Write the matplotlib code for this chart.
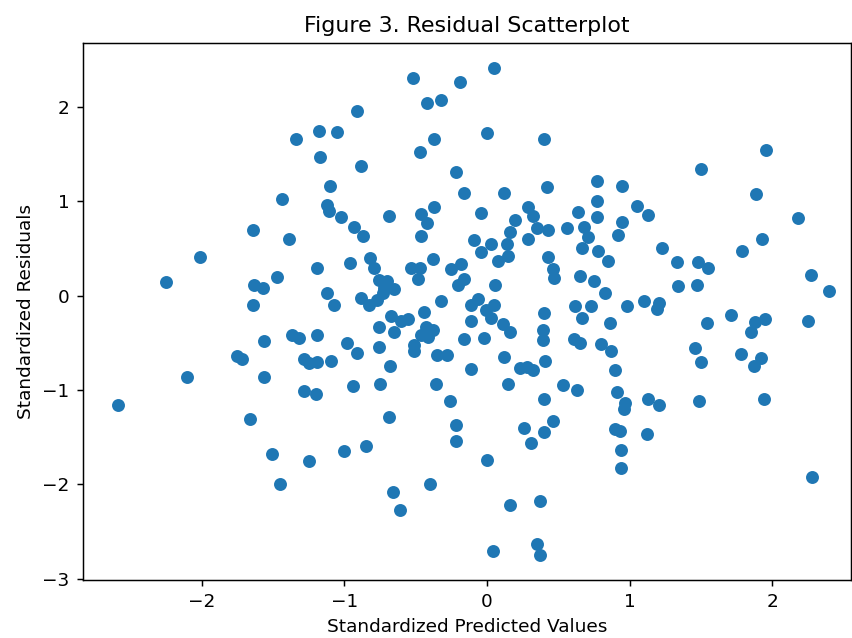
import numpy as np
import matplotlib
matplotlib.use('Agg')
from matplotlib import pyplot as plt

# standardized predicted values (x) and standardized residuals (y)
pred = [0.05, -0.52, -0.19, -0.42, -0.32, -0.91, -1.18, -1.05, -1.34, -0.37,
        -0.47, -1.17, -0.88, -0.22, -0.16, -1.10, -1.44, -1.12, -1.11, -1.02,
        -0.69, -0.46, -0.37, -0.42, -0.93, 0.00, 0.40, 0.77, 0.95, 0.42,
        0.12, 0.77, 1.05, 1.13, -0.04, 0.29, 0.32, 0.20, 0.64, 0.77,
        0.95, 0.68, 0.43, 0.35, 0.56, 1.96, 1.50, 1.89, 2.18,
        -1.64, -1.39, -2.01, -2.25, -1.47, -1.63, -1.57, -1.64, -1.56, -1.75,
        -1.72, -2.10, -1.56, -2.59,
        -0.87, -0.46, -0.09, -1.19, -0.96, -0.82, -0.79, -0.53, -0.47, -0.38,
        -0.48, -0.25, -0.18, -0.16, -0.20, -0.76, -0.70, -0.65, -0.72, -0.73,
        -1.12, -1.07, -0.88, -0.83, -0.77, -0.32, -0.11, -0.44, -0.67, -0.60,
        -0.55, -0.76, -0.65, -0.43, -0.38, -0.46, -0.41, -0.51, -0.51, -0.11,
        -0.16, -1.37, -1.32, -1.19, -0.98, -0.91, -0.76, -0.35, -0.28, -1.28,
        -1.25, -1.19, -1.09, -0.68, -0.11, -0.94, -0.75, -0.36, -1.28, -1.20,
        -0.26,
        0.16, 0.29, 0.71, 0.92, 0.03, 0.14, -0.04, 0.15, 0.08, 0.67,
        0.78, 0.85, 1.23, 0.43, 0.46, 0.47, 0.65, 0.75, 0.83, 0.06,
        -0.06, 0.05, -0.01, 0.03, 0.11, 0.16, 0.40, 0.39, 0.39, 0.62,
        0.73, 0.67, 0.86, 0.98, 1.10, 1.19, 1.21, -0.02, 0.61, 0.65,
        0.80, 0.87, 0.12, 0.41, 0.23, 0.28, 0.32, 0.90, 0.15, 0.53,
        0.63, 0.91, 0.40, 0.97, 1.13, 1.21,
        1.93, 1.79, 1.33, 1.48, 1.55, 1.34, 1.47, 2.27, 2.40, 1.71,
        1.54, 1.88, 1.95, 1.85, 2.25, 1.46, 1.50, 1.78, 1.92, 1.87,
        1.49, 1.94,
        -1.66, -1.51, -1.45, -1.25, -1.00, -0.85, -0.69, -0.22, -0.22, -0.40,
        -0.66, -0.61, 0.96, 0.46, 0.26, 0.40, 0.31, 0.90, 0.93, 1.12,
        0.94, 0.94, 0.00, 0.16, 0.37, 0.04, 0.35, 0.37, 2.28]

resid = [2.42, 2.31, 2.27, 2.04, 2.08, 1.96, 1.75, 1.74, 1.66, 1.66,
         1.53, 1.47, 1.38, 1.31, 1.09, 1.16, 1.03, 0.96, 0.90, 0.84,
         0.85, 0.87, 0.94, 0.77, 0.73, 1.73, 1.66, 1.22, 1.16, 1.15,
         1.09, 1.01, 0.95, 0.86, 0.88, 0.94, 0.85, 0.80, 0.89, 0.84,
         0.78, 0.73, 0.70, 0.72, 0.72, 1.55, 1.34, 1.08, 0.82,
         0.70, 0.60, 0.41, 0.15, 0.20, 0.11, 0.08, -0.10, -0.48, -0.64,
         -0.67, -0.86, -0.86, -1.16,
         0.63, 0.63, 0.59, 0.29, 0.35, 0.40, 0.30, 0.30, 0.30, 0.39,
         0.18, 0.28, 0.34, 0.18, 0.11, 0.17, 0.16, 0.07, 0.08, 0.03,
         0.03, -0.10, -0.02, -0.10, -0.04, -0.05, -0.10, -0.17, -0.21, -0.27,
         -0.25, -0.33, -0.38, -0.33, -0.36, -0.41, -0.44, -0.52, -0.59, -0.27,
         -0.46, -0.42, -0.45, -0.42, -0.50, -0.61, -0.54, -0.63, -0.63, -0.67,
         -0.71, -0.70, -0.69, -0.74, -0.78, -0.96, -0.93, -0.94, -1.01, -1.04,
         -1.12,
         0.68, 0.60, 0.62, 0.64, 0.55, 0.55, 0.46, 0.42, 0.37, 0.51,
         0.48, 0.37, 0.51, 0.41, 0.28, 0.19, 0.21, 0.16, 0.03, 0.11,
         -0.03, -0.10, -0.15, -0.24, -0.30, -0.38, -0.18, -0.36, -0.47, -0.11,
         -0.11, -0.24, -0.29, -0.11, -0.06, -0.14, -0.08, -0.45, -0.46, -0.50,
         -0.51, -0.59, -0.65, -0.69, -0.77, -0.75, -0.79, -0.79, -0.93, -0.95,
         -1.00, -1.02, -1.09, -1.14, -1.09, -1.16,
         0.60, 0.47, 0.36, 0.36, 0.29, 0.10, 0.11, 0.22, 0.05, -0.20,
         -0.29, -0.28, -0.25, -0.38, -0.27, -0.55, -0.70, -0.62, -0.66, -0.74,
         -1.12, -1.09,
         -1.31, -1.68, -1.99, -1.75, -1.65, -1.59, -1.28, -1.37, -1.54, -2.00,
         -2.08, -2.27, -1.20, -1.33, -1.40, -1.44, -1.56, -1.41, -1.43, -1.46,
         -1.63, -1.82, -1.74, -2.22, -2.18, -2.71, -2.63, -2.75, -1.92]

fig, ax = plt.subplots(figsize=(852 / 133, 638 / 133), dpi=133)
fig.subplots_adjust(left=0.097, right=0.999, top=0.933, bottom=0.091)

ax.scatter(pred, resid)
ax.set_xlim(-2.835, 2.554)
ax.set_ylim(-3.012, 2.683)
ax.set_title('Figure 3. Residual Scatterplot')
ax.set_xlabel('Standardized Predicted Values')
ax.set_ylabel('Standardized Residuals')

plt.savefig('out.png', dpi=133)
